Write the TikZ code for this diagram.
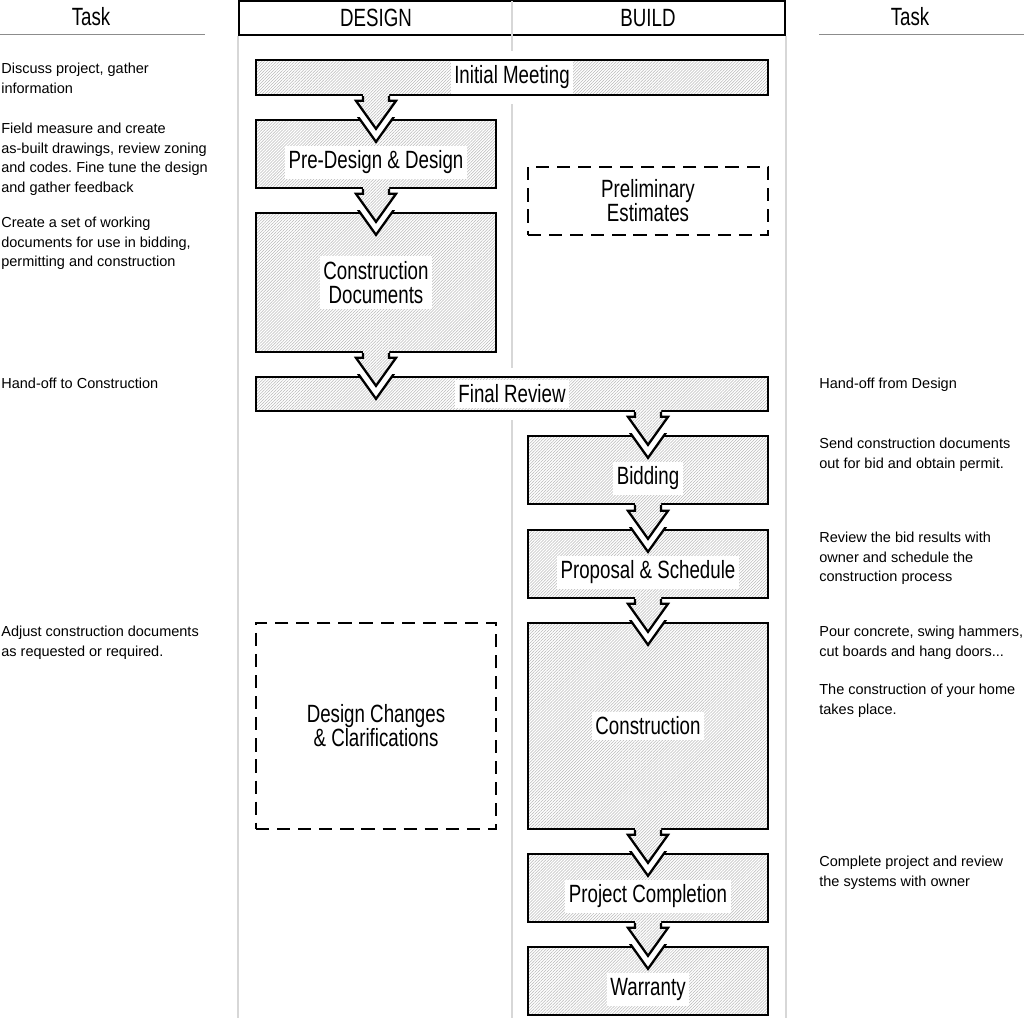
\documentclass[tikz,border=0pt]{standalone}
\usepackage{fontspec}
\setmainfont{Liberation Sans}
\newfontfamily\narrowfont{Liberation Sans}[FakeStretch=0.75]
\usetikzlibrary{calc,patterns.meta}
\frenchspacing
\definecolor{hatchgray}{RGB}{185,185,185}
\definecolor{rulegray}{RGB}{215,215,215}
\definecolor{linegray}{RGB}{140,140,140}
\newcommand{\notefont}{\fontsize{8.25}{11.1}\selectfont}
\newcommand{\boxfont}{\narrowfont\fontsize{14.2}{13.7}\selectfont}
\tikzset{
  hatched/.style={preaction={fill=white}, pattern={Lines[angle=45,distance=1.2pt,line width=0.3pt]}, pattern color=hatchgray},
  phase/.style={hatched, draw, line width=1.3pt, rectangle, inner sep=0pt, minimum width=4.8cm, minimum height=1.36cm},
  optional/.style={draw, dash pattern=on 7.5pt off 4.5pt, line width=1.3pt, rectangle, inner sep=0pt, minimum width=4.8cm},
  lbl/.style={fill=white, font=\boxfont, align=center, inner xsep=2pt, inner ysep=3pt},
  note/.style={font=\notefont, align=left, anchor=north west, inner sep=0pt},
  boxline/.style={line width=1.3pt, line join=miter},
  colrule/.style={rulegray, line width=0.8pt},
}
% block arrow from #1 into a notch of #2, on the column of #3
\newcommand{\flowarrow}[3]{%
  \coordinate (fa) at (#3.center |- #1.south);
  \coordinate (fb) at (#3.center |- #2.north);
  \begin{scope}
    \clip ([yshift=1pt]#2.north west) rectangle (#2.south east);
    \fill[white] ($(fb)+(-0.4,0.1)$) -- ($(fb)+(0,-0.46)$) -- ($(fb)+(0.4,0.1)$) -- cycle;
    \draw[boxline] ($(fb)+(-0.4,0.1)$) -- ($(fb)+(0,-0.46)$) -- ($(fb)+(0.4,0.1)$);
  \end{scope}
  \path[hatched] ($(fa)+(-0.26,0.04)$) -- ($(fb)+(-0.26,0.36)$) -- ($(fb)+(-0.4,0.36)$) -- ($(fb)+(0,-0.2)$)
    -- ($(fb)+(0.4,0.36)$) -- ($(fb)+(0.26,0.36)$) -- ($(fa)+(0.26,0.04)$) -- cycle;
  \draw[boxline] ($(fa)+(-0.26,0)$) -- ($(fb)+(-0.26,0.36)$) -- ($(fb)+(-0.4,0.36)$) -- ($(fb)+(0,-0.2)$)
    -- ($(fb)+(0.4,0.36)$) -- ($(fb)+(0.26,0.36)$) -- ($(fa)+(0.26,0)$);
}

\begin{document}
\begin{tikzpicture}
\useasboundingbox (0,0) rectangle (20.48,-20.36);
% Design column
\node[phase, minimum width=10.24cm, minimum height=0.7cm, label={[lbl]center:Initial Meeting}] (initial) at (10.24,-1.55) {};
\node[phase, label={[lbl,yshift=-0.17cm]center:Pre-Design \& Design}] (predesign) at (7.52,-3.08) {};
\node[phase, minimum height=2.78cm, label={[lbl]center:Construction\\Documents}] (cdocs) at (7.52,-5.65) {};
\node[phase, minimum width=10.24cm, minimum height=0.68cm, label={[lbl]center:Final Review}] (finalrev) at (10.24,-7.88) {};
\node[optional, minimum height=4.12cm, label={[lbl]center:Design Changes\\\& Clarifications}] (changes) at (7.52,-14.52) {};
% Build column
\node[optional, minimum height=1.36cm, label={[lbl]center:Preliminary\\Estimates}] (prelim) at (12.96,-4.02) {};
\node[phase, label={[lbl,yshift=-0.17cm]center:Bidding}] (bidding) at (12.96,-9.40) {};
\node[phase, label={[lbl,yshift=-0.17cm]center:Proposal \& Schedule}] (proposal) at (12.96,-11.28) {};
\node[phase, minimum height=4.12cm, label={[lbl]center:Construction}] (construct) at (12.96,-14.52) {};
\node[phase, label={[lbl,yshift=-0.17cm]center:Project Completion}] (completion) at (12.96,-17.76) {};
\node[phase, label={[lbl,yshift=-0.17cm]center:Warranty}] (warranty) at (12.96,-19.62) {};
% Arrows
\foreach \a/\b/\c in {initial/predesign/predesign, predesign/cdocs/predesign, cdocs/finalrev/cdocs,
  finalrev/bidding/bidding, bidding/proposal/bidding, proposal/construct/bidding,
  construct/completion/bidding, completion/warranty/bidding} {
  \flowarrow{\a}{\b}{\c}
}
% Column header and rules
\node[draw, line width=1.3pt, minimum width=10.92cm, minimum height=0.68cm, inner sep=0pt] (header) at (10.24,-0.36) {};
\node[font=\boxfont] (design) at (predesign |- header) {DESIGN};
\node[font=\boxfont] (build) at (bidding |- header) {BUILD};
\draw[colrule] (header.south west) -- (header.west |- 0,-20.36);
\draw[colrule] (header.south east) -- (header.east |- 0,-20.36);
\draw[colrule] ([yshift=-0.7pt]header.north) -- ([yshift=0.16cm]initial.north);
\draw[colrule] ([yshift=-0.16cm]initial.south) -- ([yshift=0.16cm]finalrev.north);
\draw[colrule] ([yshift=-0.16cm]finalrev.south) -- (header.north |- 0,-20.36);
% Task columns
\node[font=\boxfont] (taskl) at (1.82,-0.33) {Task};
\node[font=\boxfont] (taskr) at (18.2,-0.33) {Task};
\draw[linegray, line width=0.6pt] (0,-0.69) -- (4.1,-0.69);
\draw[linegray, line width=0.6pt] (16.38,-0.69) -- (20.48,-0.69);
\node[note] (n1) at (0.02,-1.26) {Discuss project, gather\\information};
\node[note] (n2) at (0.02,-2.46) {Field measure and create\\as-built drawings, review zoning\\and codes. Fine tune the design\\and gather feedback};
\node[note] (n3) at (0.02,-4.34) {Create a set of working\\documents for use in bidding,\\permitting and construction};
\node[note] (n4) at (0.02,-7.56) {Hand-off to Construction};
\node[note] (n5) at (0.02,-12.52) {Adjust construction documents\\as requested or required.};
\node[note] (m1) at (16.38,-7.56) {Hand-off from Design};
\node[note] (m2) at (16.38,-8.76) {Send construction documents\\out for bid and obtain permit.};
\node[note] (m3) at (16.38,-10.64) {Review the bid results with\\owner and schedule the\\construction process};
\node[note] (m4) at (16.38,-12.52) {Pour concrete, swing hammers,\\cut boards and hang doors...};
\node[note] (m5) at (16.38,-13.68) {The construction of your home\\takes place.};
\node[note] (m6) at (16.38,-17.12) {Complete project and review\\the systems with owner};
\end{tikzpicture}
\end{document}
